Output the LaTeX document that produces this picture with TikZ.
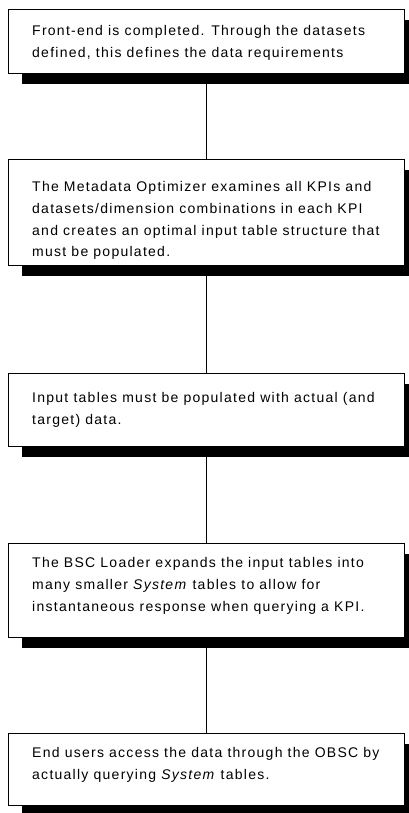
\documentclass[tikz,border=0pt]{standalone}
\usepackage{fontspec}
\setmainfont{Liberation Sans}[LetterSpace=9]
\usetikzlibrary{shadows}
\newcommand\stacklines[1]{\vtop{\halign{##\hfil\cr#1\crcr}}}
\begin{document}
\begin{tikzpicture}[x=1pt,y=-1pt,
  stepbox/.style={draw=black, line width=0.9pt, fill=white, minimum width=396pt, inner sep=0pt,
    general shadow={fill=black, shadow xshift=14pt, shadow yshift=-11pt}},
  boxtext/.style={anchor=base west, inner sep=0pt, font=\fontsize{14}{22}\selectfont},
  link/.style={draw=black, line width=0.9pt}]
\useasboundingbox (0,0) rectangle (409,813);
\clip (0,0) rectangle (409,813);

\node[stepbox, minimum height=64pt]  (b1) at (206,41) {};
\node[stepbox, minimum height=106pt] (b2) at (206,212) {};
\node[stepbox, minimum height=73pt]  (b3) at (206,409.5) {};
\node[stepbox, minimum height=94pt]  (b4) at (206,590) {};
\node[stepbox, minimum height=72pt]  (b5) at (206,769) {};

\draw[link] (b1.south) -- (b2.north);
\draw[link] (b2.south) -- (b3.north);
\draw[link] (b3.south) -- (b4.north);
\draw[link] (b4.south) -- (b5.north);

\node[boxtext] (t1) at (32,36) {\stacklines{Front-end is completed. Through the datasets\cr defined, this defines the data requirements}};
\node[boxtext] (t2) at (32,191) {\stacklines{The Metadata Optimizer examines all KPIs and\cr datasets/dimension combinations in each KPI\cr and creates an optimal input table structure that\cr must be populated.}};
\node[boxtext] (t3) at (32,402) {\stacklines{Input tables must be populated with actual (and\cr target) data.}};
\node[boxtext] (t4) at (32,567) {\stacklines{The BSC Loader expands the input tables into\cr many smaller \textit{System} tables to allow for\cr instantaneous response when querying a KPI.}};
\node[boxtext] (t5) at (32,757) {\stacklines{End users access the data through the OBSC by\cr actually querying \textit{System} tables.}};
\end{tikzpicture}
\end{document}
